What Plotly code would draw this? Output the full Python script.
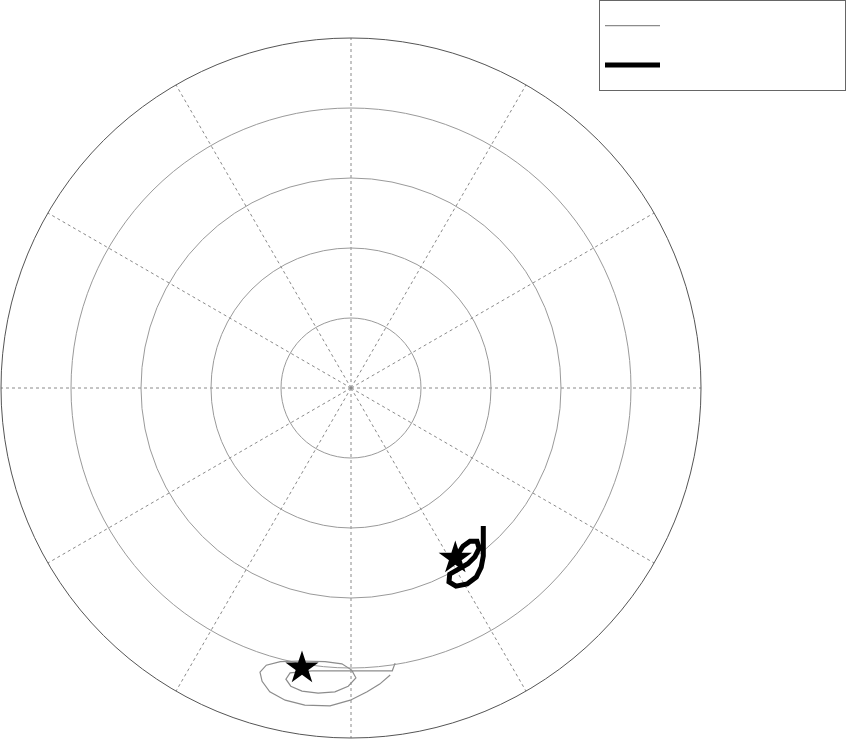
import numpy as np
import plotly.graph_objects as go

# track positions as east / north offsets (ring spacing = 10 units)
grey_east = [6.3, 5.9, -5.6, -8.7, -9.3, -8.6, -7.0, -4.7, -2.3, -0.4, 0.7, 0.1, -1.3,
             -3.7, -7.3, -10.1, -12.1, -13.0, -12.7, -11.6, -9.4, -6.6, -3.0, -0.1,
             2.3, 4.1, 5.6]
grey_north = [-39.3, -40.4, -40.4, -40.7, -41.6, -42.6, -43.3, -43.6, -43.4, -42.6, -41.4,
              -40.3, -39.4, -39.1, -39.0, -39.1, -39.6, -40.6, -41.9, -43.4, -44.6, -45.3,
              -45.4, -44.6, -43.4, -42.3, -41.0]
grey_start = (-7.0, -40.0)

black_east = [14.9, 15.3, 16.0, 17.0, 18.0, 18.3, 17.7, 16.7, 15.3, 14.1, 14.0, 15.0,
              16.6, 17.9, 18.6, 18.9, 18.9, 18.9]
black_north = [-24.6, -23.7, -22.6, -21.9, -21.9, -22.9, -24.1, -25.1, -25.9, -26.6,
               -27.7, -28.3, -28.0, -27.0, -25.6, -24.0, -21.7, -19.7]
black_start = (14.9, -24.3)

ring_vals = [10, 20, 30, 40]


def to_polar(e, n):
    e = np.asarray(e, dtype=float)
    n = np.asarray(n, dtype=float)
    return np.hypot(e, n), np.degrees(np.arctan2(e, n))


blank = '\u00a0' * 24

fig = go.Figure()

r, th = to_polar(grey_east, grey_north)
fig.add_trace(go.Scatterpolar(r=r, theta=th, mode='lines', name=blank,
                              line=dict(color='#8c8c8c', width=1.2)))
r, th = to_polar(black_east, black_north)
fig.add_trace(go.Scatterpolar(r=r, theta=th, mode='lines', name=blank,
                              line=dict(color='black', width=5)))

# start markers
for pt in (grey_start, black_start):
    r, th = to_polar([pt[0]], [pt[1]])
    fig.add_trace(go.Scatterpolar(r=r, theta=th, mode='markers', showlegend=False,
                                  marker=dict(symbol='star', size=25, color='black')))

fig.update_layout(
    width=850, height=742,
    margin=dict(l=0, r=0, t=0, b=0),
    paper_bgcolor='white',
    polar=dict(
        domain=dict(x=[1 / 850, 701 / 850], y=[4 / 742, 704 / 742]),
        bgcolor='white',
        radialaxis=dict(range=[0, 50], tickvals=ring_vals, showticklabels=False,
                        ticks='', showline=False, gridcolor='#9a9a9a', gridwidth=1),
        angularaxis=dict(rotation=90, direction='clockwise', dtick=30,
                         showticklabels=False, ticks='', gridcolor='#8a8a8a',
                         griddash='dot', linecolor='#555555', linewidth=1),
    ),
    legend=dict(x=599 / 850, y=1, xanchor='left', yanchor='top',
                bordercolor='#666666', borderwidth=1, bgcolor='white',
                font=dict(size=28), itemwidth=55),
)

fig.write_html("out.html", config={'displayModeBar': False},
               post_script="document.body.style.margin='0';")
